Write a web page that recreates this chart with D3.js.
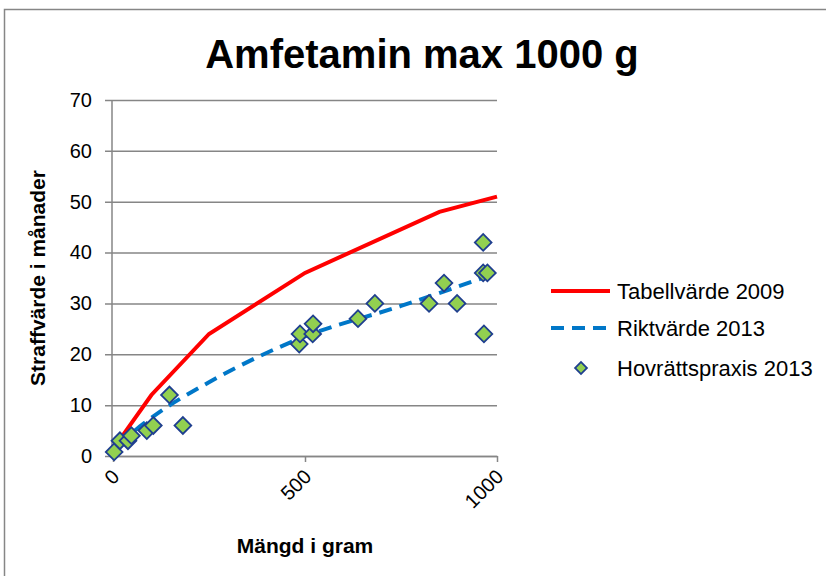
<!DOCTYPE html>
<html>
<head>
<meta charset="utf-8">
<script src="https://cdn.jsdelivr.net/npm/d3@7"></script>
<style>
  body { margin: 0; background: #fff; }
  text { font-family: "Liberation Sans", Arial, sans-serif; fill: #000; }
</style>
</head>
<body>
<svg id="chart" width="826" height="576"></svg>
<script>
// Tabellvärde 2009 (gram, månader)
const tabellX = [25, 100, 250, 500, 850, 1000];
const tabellY = [4, 12, 24, 36, 48, 51];

// Riktvärde 2013
const riktX = [20, 50, 100, 250, 500, 750, 1000];
const riktY = [2, 4.5, 7.5, 14.5, 23.5, 29.5, 36];

// Hovrättspraxis 2013
const praxisX = [3, 18, 39, 48, 88, 105, 147, 182, 485, 487, 520, 521, 638, 682, 823, 862, 896, 964, 966, 975, 964];
const praxisY = [0.8, 3, 3, 4, 5, 6, 12, 6, 22, 24, 24, 26, 27, 30, 30, 34, 30, 36, 24, 36, 42];

const yTicks = [0, 10, 20, 30, 40, 50, 60, 70];
const xTicks = [0, 500, 1000];

const seriesNames = ["Tabellvärde 2009", "Riktvärde 2013", "Hovrättspraxis 2013"];

const svg = d3.select("#chart");

// chart frame
svg.append("rect")
    .attr("x", 4.5).attr("y", 9.5)
    .attr("width", 830).attr("height", 580)
    .attr("fill", "none").attr("stroke", "#868686").attr("stroke-width", 1.5);

const x = d3.scaleLinear().domain([0, 1000]).range([113, 497]);
const y = d3.scaleLinear().domain([0, 70]).range([456, 100]);

// title
svg.append("text")
    .attr("x", 422).attr("y", 68)
    .attr("text-anchor", "middle")
    .style("font-size", "40px").style("font-weight", "bold")
    .text("Amfetamin max 1000 g");

// gridlines + y labels
const gy = svg.append("g")
    .attr("transform", "translate(105,0)")
    .call(d3.axisLeft(y).tickValues(yTicks).tickSize(-(497 - 105)).tickPadding(13));
gy.select(".domain").remove();
gy.selectAll(".tick line").attr("stroke", "#868686").attr("stroke-width", 1.5);
gy.selectAll(".tick text").style("font-size", "20px").style("font-family", "Liberation Sans, Arial, sans-serif").attr("fill", "#000");

// y axis line
svg.append("line")
    .attr("x1", 112).attr("x2", 112)
    .attr("y1", y(70)).attr("y2", y(0))
    .attr("stroke", "#868686").attr("stroke-width", 1.5);

// x axis
const gx = svg.append("g")
    .attr("transform", "translate(0,456)")
    .call(d3.axisBottom(x).tickValues(xTicks).tickFormat(d3.format("d")).tickSize(6).tickSizeOuter(0));
gx.select(".domain").attr("stroke", "#868686").attr("stroke-width", 1.5);
gx.selectAll(".tick line").attr("stroke", "#868686").attr("stroke-width", 1.5);
gx.selectAll(".tick text")
    .style("font-size", "20px").style("font-family", "Liberation Sans, Arial, sans-serif")
    .attr("fill", "#000")
    .attr("text-anchor", "end")
    .attr("dy", null).attr("y", 0)
    .attr("transform", "translate(7,22) rotate(-45)");

// axis titles
svg.append("text")
    .attr("transform", "translate(45,278) rotate(-90)")
    .attr("text-anchor", "middle")
    .style("font-size", "21px").style("font-weight", "bold")
    .text("Straffvärde i månader");

svg.append("text")
    .attr("x", 305).attr("y", 553)
    .attr("text-anchor", "middle")
    .style("font-size", "21px").style("font-weight", "bold")
    .text("Mängd i gram");

// lines
const line = d3.line().x(d => x(d[0])).y(d => y(d[1]));
const smooth = d3.line().x(d => x(d[0])).y(d => y(d[1])).curve(d3.curveMonotoneX);

svg.append("path")
    .datum(d3.zip(tabellX, tabellY))
    .attr("d", line)
    .attr("fill", "none").attr("stroke", "#ff0000").attr("stroke-width", 4);

svg.append("path")
    .datum(d3.zip(riktX, riktY))
    .attr("d", smooth)
    .attr("fill", "none").attr("stroke", "#0077c8").attr("stroke-width", 4)
    .attr("stroke-dasharray", "13,8");

// markers
const diamond = d3.symbol().type(d3.symbolSquare).size(140);
svg.append("g").selectAll("path")
    .data(d3.zip(praxisX, praxisY))
    .join("path")
    .attr("d", diamond)
    .attr("transform", d => `translate(${x(d[0])},${y(d[1])}) rotate(45)`)
    .attr("fill", "#92d050").attr("stroke", "#1f3f8f").attr("stroke-width", 1.8);

// legend
const legend = svg.append("g");
const lgY = [291, 328, 368];
legend.append("line")
    .attr("x1", 551).attr("x2", 610).attr("y1", lgY[0]).attr("y2", lgY[0])
    .attr("stroke", "#ff0000").attr("stroke-width", 4);
legend.append("line")
    .attr("x1", 551).attr("x2", 610).attr("y1", lgY[1]).attr("y2", lgY[1])
    .attr("stroke", "#0077c8").attr("stroke-width", 4).attr("stroke-dasharray", "13,8");
legend.append("path")
    .attr("d", d3.symbol().type(d3.symbolSquare).size(70))
    .attr("transform", `translate(581,${lgY[2]}) rotate(45)`)
    .attr("fill", "#92d050").attr("stroke", "#1f3f8f").attr("stroke-width", 1.8);
legend.selectAll("text.lg")
    .data(seriesNames)
    .join("text")
    .attr("class", "lg")
    .attr("x", 617)
    .attr("y", (d, i) => lgY[i])
    .attr("dy", "0.35em")
    .style("font-size", "22px")
    .text(d => d);
</script>
</body>
</html>
